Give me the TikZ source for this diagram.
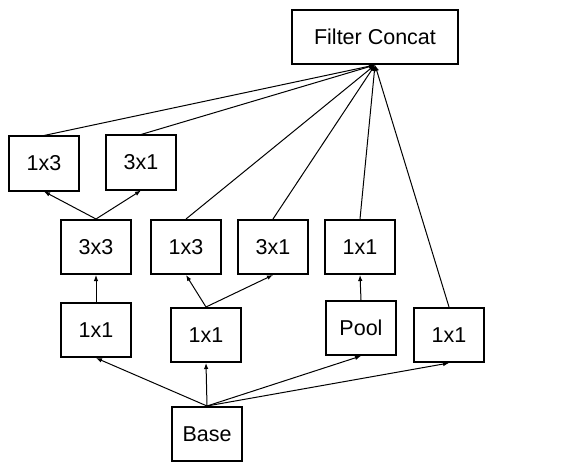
\documentclass[tikz,border=0pt]{standalone}
\usepackage{fontspec}
\setmainfont{Liberation Sans}
\usetikzlibrary{arrows.meta}

\begin{document}
\begin{tikzpicture}
  [x=1pt,y=-1pt,every node/.style={draw,line width=2pt,minimum width=70pt,minimum height=54pt,
     font=\fontsize{21.5}{24}\selectfont},
   link/.style={-{Latex[length=6pt,width=4.5pt]},line width=1pt}]
  \useasboundingbox (0,0) rectangle (578,468);
  \node (fc) at (375,37) [minimum width=166pt] {Filter Concat};
  \node (ta) at (44,163.5) {1x3};
  \node (tb) at (141,162.5) {3x1};
  \node (ma) at (96,247) {3x3};
  \node (mb) at (186,247) {1x3};
  \node (mc) at (273,247) {3x1};
  \node (md) at (360,247) {1x1};
  \node (la) at (96,330) {1x1};
  \node (lb) at (206,335) {1x1};
  \node (lc) at (361,328) {Pool};
  \node (ld) at (449,335) {1x1};
  \node (base) at (207,434) {Base};
    \foreach \from/\to in {ta/fc,tb/fc,mb/fc,mc/fc,md/fc,ld/fc,ma/ta,ma/tb,la/ma,lb/mb,lb/mc,lc/md,base/la,base/lb,base/lc,base/ld}
    \draw[link] (\from.north) -- (\to.south);
\end{tikzpicture}
\end{document}
